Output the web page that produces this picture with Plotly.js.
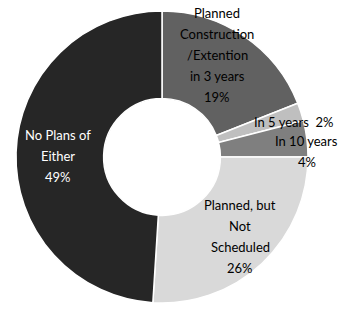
<!DOCTYPE html>
<html>
<head>
<meta charset="utf-8">
<script src="https://cdn.plot.ly/plotly-3.0.1.min.js"></script>
<style>html,body{margin:0;padding:0;background:#fff;}#chart{width:339px;height:310px;}</style>
</head>
<body>
<div id="chart"></div>
<script>
var labels = ['Planned Construction /Extention in 3 years', 'In 5 years', 'In 10 years', 'Planned, but Not Scheduled', 'No Plans of Either'];
var values = [19, 2, 4, 26, 49];
var colors = ['#616161', '#bfbfbf', '#7f7f7f', '#d9d9d9', '#262626'];
var labelLines = [
  ['Planned', 'Construction', '/Extention', 'in 3 years', '19%'],
  ['In 5 years  2%'],
  ['In 10 years', '4%'],
  ['Planned, but', 'Not', 'Scheduled', '26%'],
  ['No Plans of', 'Either', '49%']
];
var labelPos = [[217, 13], [293, 122], [306, 141], [240, 205], [58, 135]];
var textColors = ['#000', '#000', '#000', '#000', '#fff'];

var W = 339, H = 310, lineH = 21;
var annotations = [];
labelLines.forEach(function (lines, i) {
  lines.forEach(function (t, j) {
    var px = labelPos[i][0], py = labelPos[i][1] + j * lineH;
    if (i === 2 && j === 1) { px = 307; }
    annotations.push({
      text: t, xref: 'paper', yref: 'paper', x: px / W, y: 1 - py / H,
      xanchor: 'center', yanchor: 'middle', showarrow: false,
      font: {family: 'Lato, "Liberation Sans Narrow", sans-serif', size: 13, color: textColors[i]}
    });
  });
});

Plotly.newPlot('chart', [{
  type: 'pie',
  labels: labels,
  values: values,
  hole: 0.4,
  sort: false,
  direction: 'clockwise',
  rotation: 0,
  textinfo: 'none',
  marker: {colors: colors, line: {color: '#ffffff', width: 1.5}},
  domain: {x: [16 / W, 308 / W], y: [1 - 303 / H, 1 - 11 / H]},
  hoverinfo: 'none'
}], {
  width: W, height: H,
  margin: {l: 0, r: 0, t: 0, b: 0},
  showlegend: false,
  paper_bgcolor: '#ffffff',
  annotations: annotations
}, {staticPlot: true, displayModeBar: false});
</script>
</body>
</html>
